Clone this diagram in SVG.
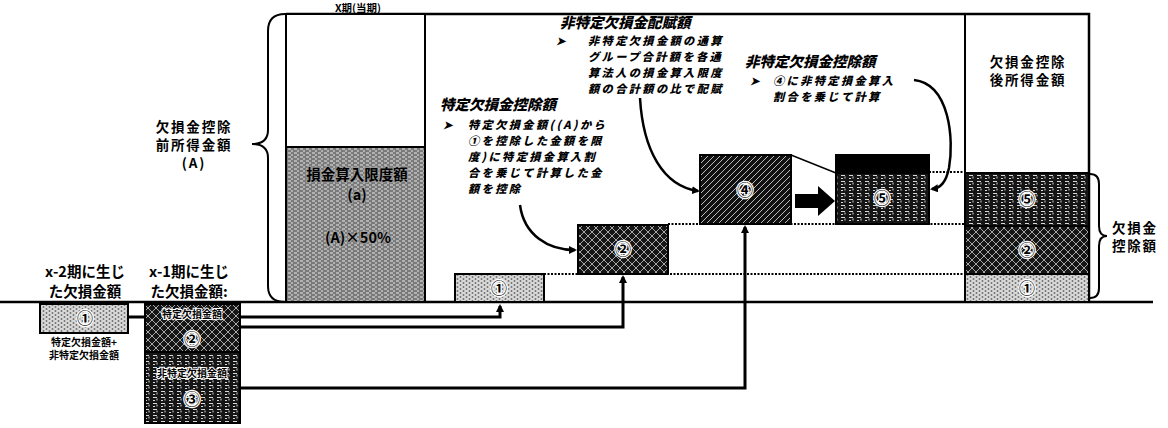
<svg xmlns="http://www.w3.org/2000/svg" width="1168" height="428" viewBox="0 0 1168 428">
<style>
text{font-family:"Noto Sans CJK JP","Noto Sans CJK SC",sans-serif;font-weight:700;fill:#000}
.lbl{font-size:13.5px;letter-spacing:1.8px}
.lbl2{font-size:14.5px}
.hd{font-size:14.5px;font-style:italic;font-weight:900}
.bd{font-size:11.2px;font-style:italic;letter-spacing:2.4px;font-weight:900}
.sm{font-size:10px}
.num{font-size:16px;text-anchor:middle;stroke:#fff;stroke-width:2.5px;paint-order:stroke}
.box{stroke:#000;stroke-width:2}
.conn{fill:none;stroke:#000;stroke-width:3}
.dot{fill:none;stroke:#000;stroke-width:2;stroke-dasharray:2 1.5}
</style>
<defs>
<pattern id="pLight" width="6" height="4" patternUnits="userSpaceOnUse"><rect width="6" height="4" fill="#bdbdbd"/><path d="M0 1h3M3 3h3" stroke="#f4f4f4" stroke-width="1"/><path d="M4 1h1M1 3h1" stroke="#333" stroke-width="1"/></pattern>
<pattern id="pMid" width="6" height="4" patternUnits="userSpaceOnUse"><rect width="6" height="4" fill="#7a7a7a"/><path d="M0 1h3M3 3h2" stroke="#e8e8e8" stroke-width="1"/></pattern>
<pattern id="pCross" width="8" height="8" patternUnits="userSpaceOnUse"><rect width="8" height="8" fill="#151515"/><path d="M0 0L8 8M8 0L0 8" stroke="#b8b8b8" stroke-width="0.9"/></pattern>
<pattern id="pDiag" width="6" height="6" patternUnits="userSpaceOnUse"><rect width="6" height="6" fill="#111"/><path d="M0 6L6 0" stroke="#bcbcbc" stroke-width="1"/></pattern>
<pattern id="pGrid" width="8" height="6" patternUnits="userSpaceOnUse"><rect width="8" height="6" fill="#151515"/><path d="M1 1.5h4M5 4.5v-2M1 4.5h2" stroke="#d8d8d8" stroke-width="1"/></pattern>
<marker id="ah" markerWidth="8" markerHeight="8" refX="6" refY="4" orient="auto" markerUnits="userSpaceOnUse"><path d="M0 0L8 4L0 8Z" fill="#000"/></marker>
</defs>
<rect width="1168" height="428" fill="#fff"/>

<g id="frame">
<path d="M286 14H1089V302" fill="none" stroke="#000" stroke-width="2.5"/>
<path d="M965 14V302" fill="none" stroke="#000" stroke-width="2"/>
<line x1="0" y1="302" x2="1153" y2="302" stroke="#000" stroke-width="2.5"/>
<text x="358" y="12" text-anchor="middle" style="font-size:10.5px">X期(当期)</text>
</g>

<g id="connectors">
<path class="conn" d="M128 317H500V306" marker-end="url(#ah)"/>
<path class="conn" d="M240 327H623V277" marker-end="url(#ah)"/>
<path class="conn" d="M240 388H745V227" marker-end="url(#ah)"/>
<path class="dot" d="M544 274H965"/>
<path class="dot" d="M668 224H965"/>
<path class="dot" d="M929 172H965"/>
<path d="M791 155L836 173" stroke="#000" stroke-width="1.5" fill="none"/>
<path class="conn" style="stroke-width:2.5" d="M520 205C524 235 548 250 575 250" marker-end="url(#ah)"/>
<path class="conn" style="stroke-width:2.5" d="M640 98C643 150 663 186 698 191" marker-end="url(#ah)"/>
<path class="conn" style="stroke-width:2.5" d="M914 80C950 84 954 140 949 168C946 182 941 188 932 189" marker-end="url(#ah)"/>
<path d="M795 194H818V186L835 201L818 216V208H795Z" fill="#000"/>
</g>

<g id="braceA">
<path d="M285 14Q268 14 268 31V130Q268 144 252 144Q268 144 268 158V286Q268 302 285 302" fill="none" stroke="#000" stroke-width="2"/>
<text class="lbl" x="194" y="132" text-anchor="middle">欠損金控除</text>
<text class="lbl" x="194" y="150" text-anchor="middle">前所得金額</text>
<text class="lbl" x="194" y="168" text-anchor="middle">(A)</text>
</g>

<g id="colLimit">
<rect x="286" y="14" width="139" height="133" fill="#fff" stroke="#000" stroke-width="2"/>
<rect x="286" y="147" width="139" height="155" fill="url(#pMid)" class="box"/>
<text class="lbl2" x="357" y="180" text-anchor="middle" style="stroke:#9a9a9a;stroke-width:2px;paint-order:stroke">損金算入限度額</text>
<text class="lbl2" x="357" y="200" text-anchor="middle" style="stroke:#9a9a9a;stroke-width:2px;paint-order:stroke">(a)</text>
<text class="lbl2" x="358" y="243" text-anchor="middle" style="stroke:#9a9a9a;stroke-width:2px;paint-order:stroke">(A)×50%</text>
</g>

<g id="nodeX2">
<text class="lbl2" x="85" y="277" text-anchor="middle">x-2期に生じ</text>
<text class="lbl2" x="85" y="297" text-anchor="middle">た欠損金額</text>
<rect x="40" y="304" width="88" height="29" fill="url(#pLight)" class="box"/>
<text class="num" x="85" y="324">①</text>
<text class="sm" x="84" y="346" text-anchor="middle">特定欠損金額+</text>
<text class="sm" x="84" y="359" text-anchor="middle">非特定欠損金額</text>
</g>

<g id="nodeX1">
<text class="lbl2" x="189" y="277" text-anchor="middle">x-1期に生じ</text>
<text class="lbl2" x="189" y="297" text-anchor="middle">た欠損金額:</text>
<rect x="145" y="304" width="95" height="48" fill="url(#pCross)" class="box"/>
<rect x="145" y="352" width="95" height="71" fill="url(#pGrid)" class="box"/>
<text class="sm" x="192" y="318" text-anchor="middle" style="stroke:#fff;stroke-width:2px;paint-order:stroke">特定欠損金額</text>
<text class="num" x="192" y="345">②</text>
<text class="sm" x="192" y="377" text-anchor="middle" style="stroke:#fff;stroke-width:2px;paint-order:stroke">非特定欠損金額</text>
<text class="num" x="192" y="405">③</text>
</g>

<g id="step1">
<rect x="455" y="274" width="89" height="28" fill="url(#pLight)" class="box"/>
<text class="num" x="499" y="294">①</text>
</g>

<g id="step2">
<rect x="578" y="225" width="90" height="49" fill="url(#pCross)" class="box"/>
<text class="num" x="623" y="255">②</text>
</g>

<g id="step3">
<rect x="700" y="155" width="91" height="69" fill="url(#pDiag)" class="box"/>
<text class="num" x="745" y="196">④</text>
</g>

<g id="step4">
<rect x="836" y="155" width="93" height="18" fill="#000" class="box"/>
<rect x="836" y="173" width="93" height="51" fill="url(#pGrid)" class="box"/>
<text class="num" x="882" y="204">⑤</text>
</g>

<g id="result">
<text class="lbl" x="1028" y="67" text-anchor="middle">欠損金控除</text>
<text class="lbl" x="1028" y="85" text-anchor="middle">後所得金額</text>
<rect x="965" y="173" width="124" height="53" fill="url(#pGrid)" class="box"/>
<rect x="965" y="226" width="124" height="48" fill="url(#pCross)" class="box"/>
<rect x="965" y="274" width="124" height="28" fill="url(#pLight)" class="box"/>
<text class="num" x="1027" y="205">⑤</text>
<text class="num" x="1027" y="256">②</text>
<text class="num" x="1027" y="294">①</text>
</g>

<g id="braceB">
<path d="M1090 174Q1099 174 1099 184V226Q1099 236 1107 236Q1099 236 1099 246V288Q1099 298 1090 298" fill="none" stroke="#000" stroke-width="2"/>
<text class="lbl" x="1112" y="233">欠損金</text>
<text class="lbl" x="1112" y="251">控除額</text>
</g>

<g id="noteAlloc">
<text class="hd" x="560" y="28">非特定欠損金配賦額</text>
<text class="bd" x="556" y="45">➤</text>
<text class="bd" x="588" y="45">非特定欠損金額の通算</text>
<text class="bd" x="588" y="61">グループ合計額を各通</text>
<text class="bd" x="588" y="77">算法人の損金算入限度</text>
<text class="bd" x="588" y="93">額の合計額の比で配賦</text>
</g>

<g id="noteSpecific">
<text class="hd" x="440" y="110">特定欠損金控除額</text>
<text class="bd" x="443" y="129">➤</text>
<text class="bd" x="468" y="129">特定欠損金額((A)から</text>
<text class="bd" x="468" y="145">①を控除した金額を限</text>
<text class="bd" x="468" y="161">度)に特定損金算入割</text>
<text class="bd" x="468" y="177">合を乗じて計算した金</text>
<text class="bd" x="468" y="193">額を控除</text>
</g>

<g id="noteNonSpecific">
<text class="hd" x="745" y="67">非特定欠損金控除額</text>
<text class="bd" x="750" y="85">➤</text>
<text class="bd" x="773" y="85">④に非特定損金算入</text>
<text class="bd" x="773" y="101">割合を乗じて計算</text>
</g>
</svg>
